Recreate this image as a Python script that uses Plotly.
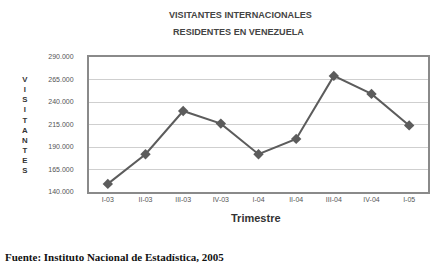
import plotly.graph_objects as go

categories = ["I-03", "II-03", "III-03", "IV-03", "I-04", "II-04", "III-04", "IV-04", "I-05"]
visitantes = [149000, 182000, 230000, 216000, 182000, 199000, 269000, 249000, 214000]
tick_vals = [140000, 165000, 190000, 215000, 240000, 265000, 290000]
tick_text = ["140.000", "165.000", "190.000", "215.000", "240.000", "265.000", "290.000"]

W, H = 438, 267
l, r, t, b = 89, 10, 57, 75
pw, ph = W - l - r, H - t - b

def px(x):
    return (x - l) / pw

def py(y):
    return 1 - (y - t) / ph

fig = go.Figure()
fig.add_trace(go.Scatter(
    x=categories, y=visitantes, mode="lines+markers",
    line=dict(color="#5c5c5c", width=2),
    marker=dict(symbol="diamond", size=8, color="#5c5c5c"),
    showlegend=False, cliponaxis=False, hoverinfo="skip",
))

fig.update_layout(
    width=W, height=H,
    margin=dict(l=l, r=r, t=t, b=b, autoexpand=False),
    paper_bgcolor="white", plot_bgcolor="white",
    font=dict(family="Liberation Sans, Arial", color="#444"),
    xaxis=dict(
        type="category", range=[-0.5, 8.5], showgrid=False, automargin=False,
        showline=True, linecolor="#8a8a8a", linewidth=2, mirror=True,
        ticks="", tickfont=dict(size=7, color="#555"),
    ),
    yaxis=dict(
        range=[140000, 290000], tickvals=tick_vals, ticktext=tick_text, automargin=False,
        showgrid=True, gridcolor="#cfcfcf", gridwidth=1,
        showline=True, linecolor="#8a8a8a", linewidth=2, mirror=True,
        ticks="", tickfont=dict(size=7, color="#555"), ticklabelstandoff=12,
        zeroline=False,
    ),
    annotations=[
        dict(text="<b>VISITANTES INTERNACIONALES</b>", x=px(240), y=py(15),
             font=dict(size=9.1, color="#444")),
        dict(text="<b>RESIDENTES EN VENEZUELA</b>", x=px(238), y=py(32),
             font=dict(size=9.1, color="#444")),
        dict(text="<b>" + "<br>".join(list("VISITANTES")) + "</b>", x=px(20), y=py(125),
             font=dict(size=7.8, color="#333")),
        dict(text="<b>Trimestre</b>", x=px(256), y=py(218),
             font=dict(size=11, color="#333")),
        dict(text="<b>Fuente: Instituto Nacional de Estadística, 2005</b>", x=px(3), y=py(257),
             xanchor="left", font=dict(size=11, color="#111", family="Liberation Serif, Times New Roman")),
    ],
)
fig.update_annotations(xref="paper", yref="paper", showarrow=False, yanchor="middle")

fig.write_html("out.html", config={"displayModeBar": False},
               post_script="document.body.style.margin='0';")
